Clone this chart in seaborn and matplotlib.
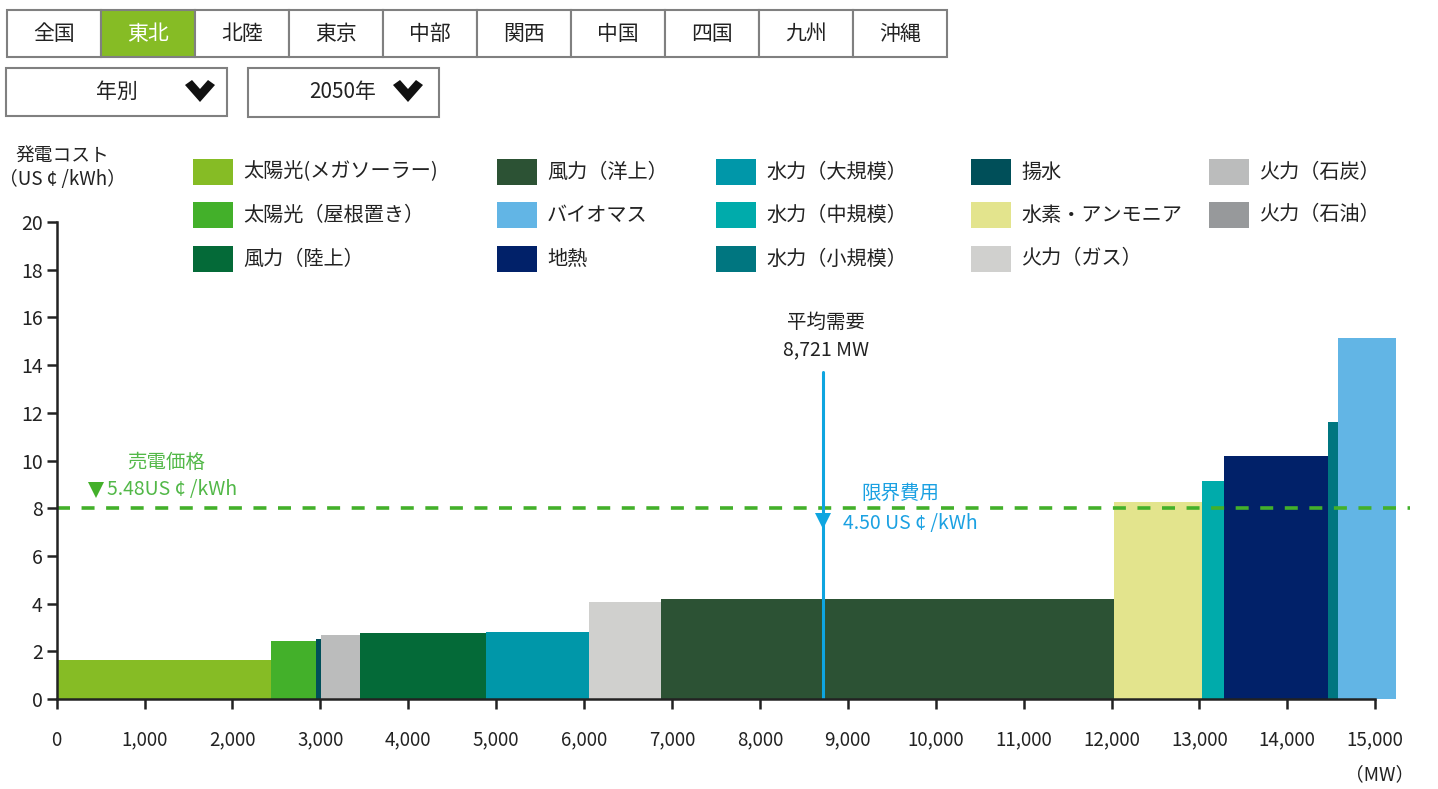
import numpy as np
import matplotlib
matplotlib.use("Agg")
import matplotlib.pyplot as plt
from matplotlib.patches import Rectangle, Polygon
import seaborn as sns

# ---------------- data ----------------
sources = ["太陽光(メガソーラー)", "太陽光（屋根置き）", "揚水", "火力（石炭）", "風力（陸上）",
           "水力（大規模）", "火力（ガス）", "風力（洋上）", "水素・アンモニア", "水力（中規模）",
           "地熱", "水力（小規模）", "バイオマス"]
capacity_mw = [2438, 512, 57, 444, 1433, 1172, 819, 5155, 1000, 250, 1184, 112, 661]
cost_cents = [1.64, 2.44, 2.52, 2.69, 2.77, 2.80, 4.07, 4.20, 8.28, 9.16, 10.17, 11.60, 15.13]

legend_columns = [
    ["太陽光(メガソーラー)", "太陽光（屋根置き）", "風力（陸上）"],
    ["風力（洋上）", "バイオマス", "地熱"],
    ["水力（大規模）", "水力（中規模）", "水力（小規模）"],
    ["揚水", "水素・アンモニア", "火力（ガス）"],
    ["火力（石炭）", "火力（石油）"],
]
colors = {
    "太陽光(メガソーラー)": "#86bc25", "太陽光（屋根置き）": "#43b02a", "風力（陸上）": "#046a38",
    "風力（洋上）": "#2c5234", "バイオマス": "#62b5e5", "地熱": "#012169",
    "水力（大規模）": "#0097a9", "水力（中規模）": "#00abab", "水力（小規模）": "#007680",
    "揚水": "#004f59", "水素・アンモニア": "#e3e48d", "火力（ガス）": "#d0d0ce",
    "火力（石炭）": "#bbbcbc", "火力（石油）": "#97999b",
}
regions = ["全国", "東北", "北陸", "東京", "中部", "関西", "中国", "四国", "九州", "沖縄"]
selected_region = "東北"
view_mode = "年別"
year_label = "2050年"

avg_demand_mw = 8721
price_line = 8.0
sell_price_label = "5.48US ¢ /kWh"
marginal_cost_label = "4.50 US ¢ /kWh"
marginal_marker_y = 7.45
xticks = list(range(0, 15001, 1000))
yticks = list(range(0, 21, 2))

# ---------------- style ----------------
sns.set_style("white")
plt.rcParams["font.family"] = ["Noto Sans CJK JP", "DejaVu Sans"]

W, H = 1438, 789
fig = plt.figure(figsize=(W / 100, H / 100), dpi=100)

def fx(x):
    return x / W

def fy(y):
    return 1 - y / H

px_per_1000 = 87.9
ax_left, ax_bottom_px, ax_top_px = 56.7, 699, 222
ax = fig.add_axes([fx(ax_left), fy(ax_bottom_px), 15.5 * px_per_1000 / W, (ax_bottom_px - ax_top_px) / H])

lefts = np.concatenate([[0], np.cumsum(capacity_mw)[:-1]])
ax.bar(lefts, cost_cents, width=capacity_mw, align="edge",
       color=[colors[s] for s in sources], edgecolor="none", linewidth=0, zorder=2)

ax.set_xlim(0, 15500)
ax.set_ylim(0, 20)
ax.set_xticks(xticks)
ax.set_xticklabels([f"{v:,}" for v in xticks])
ax.set_yticks(yticks)
for s in ["top", "right"]:
    ax.spines[s].set_visible(False)
ax.spines["left"].set_bounds(0, 20)
ax.spines["bottom"].set_bounds(0, 15000)
for s in ["left", "bottom"]:
    ax.spines[s].set_color("#222222")
    ax.spines[s].set_linewidth(1.8)
    ax.spines[s].set_zorder(5)
ax.tick_params(axis="x", direction="out", length=7, width=1.8, color="#222222",
               pad=15, labelsize=13.5, labelcolor="#222222")
ax.tick_params(axis="y", direction="out", length=7, width=1.8, color="#222222",
               pad=3, labelsize=14, labelcolor="#222222")
ax.tick_params(bottom=True, left=True)
ax.grid(False)

# price dashed line
green = "#43b02a"
ax.plot([0, 15396], [price_line, price_line], color=green, lw=2.6, dashes=(3.6, 3.2), zorder=4,
        clip_on=False)
# average demand line
blue = "#0ea5e0"
ax.plot([avg_demand_mw, avg_demand_mw], [0, 13.7], color=blue, lw=2.2, zorder=4)
ax.plot([avg_demand_mw], [marginal_marker_y], marker="v", color=blue, markersize=12, zorder=6,
        markeredgewidth=0)
ax.plot([447], [8.76], marker="v", color=green, markersize=12, zorder=6, markeredgewidth=0)

fs = 14
fig.text(fx(826), fy(322), "平均需要", ha="center", va="center", fontsize=fs, color="#222222")
fig.text(fx(826), fy(350), f"{avg_demand_mw:,} MW", ha="center", va="center", fontsize=fs, color="#222222")
fig.text(fx(900), fy(493), "限界費用", ha="center", va="center", fontsize=fs, color="#1ba1e2")
fig.text(fx(843), fy(523), marginal_cost_label, ha="left", va="center", fontsize=fs, color="#1ba1e2")
fig.text(fx(166), fy(462), "売電価格", ha="center", va="center", fontsize=fs, color="#52b848")
fig.text(fx(107), fy(490), sell_price_label, ha="left", va="center", fontsize=fs, color="#52b848")

# axis titles
fig.text(fx(62), fy(155), "発電コスト", ha="center", va="center", fontsize=13.5, color="#222222")
fig.text(fx(62), fy(180), "（US ¢ /kWh）", ha="center", va="center", fontsize=13.5, color="#222222")
fig.text(fx(1380), fy(775), "（MW）", ha="center", va="center", fontsize=13.5, color="#222222")

# legend (manual columns)
col_x = [193, 497, 716, 971, 1209]
row_y = [172, 215, 259]
for cx, col in zip(col_x, legend_columns):
    for ry, name in zip(row_y, col):
        fig.patches.append(Rectangle((fx(cx), fy(ry + 13)), 40 / W, 26 / H,
                                     transform=fig.transFigure, facecolor=colors[name],
                                     edgecolor="none"))
        fig.text(fx(cx + 50), fy(ry), name, ha="left", va="center", fontsize=14.5, color="#222222")

# region tabs
tab_w, tab_x0, tab_y0, tab_y1 = 94, 7, 10, 57
for i, r in enumerate(regions):
    x0 = tab_x0 + i * tab_w
    sel = r == selected_region
    fig.patches.append(Rectangle((fx(x0), fy(tab_y1)), tab_w / W, (tab_y1 - tab_y0) / H,
                                 transform=fig.transFigure, facecolor="#86bc25" if sel else "white",
                                 edgecolor="#808080", linewidth=1.5))
    fig.text(fx(x0 + tab_w / 2), fy((tab_y0 + tab_y1) / 2), r, ha="center", va="center",
             fontsize=15, color="white" if sel else "#222222")

# dropdowns
for (x0, x1, y0, y1, tx, label, chev) in [(6, 227, 68, 116, 117, view_mode, 200),
                                          (248, 439, 68, 117, 343, year_label, 408)]:
    fig.patches.append(Rectangle((fx(x0), fy(y1)), (x1 - x0) / W, (y1 - y0) / H,
                                 transform=fig.transFigure, facecolor="white",
                                 edgecolor="#808080", linewidth=1.5))
    fig.text(fx(tx), fy(92), label, ha="center", va="center", fontsize=15, color="#222222")
    pts = [(chev - 15, 85), (chev - 8, 80), (chev, 89), (chev + 8, 80), (chev + 15, 85), (chev, 102)]
    fig.patches.append(Polygon([(fx(a), fy(b)) for a, b in pts], closed=True,
                               transform=fig.transFigure, facecolor="#111111", edgecolor="none"))

fig.savefig("out.png", dpi=100)
